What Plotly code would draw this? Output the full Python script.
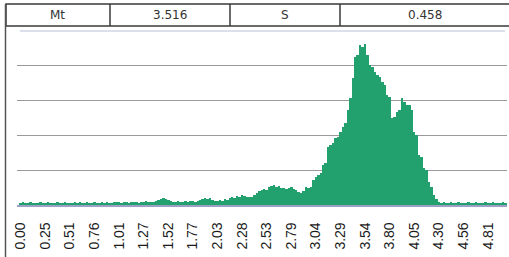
import plotly.graph_objects as go

# ---- data ----
stats_labels = ["Mt", "S"]
stats_values = ["3.516", "0.458"]

tick_labels = ["0.00", "0.25", "0.51", "0.76", "1.01", "1.27", "1.52", "1.77", "2.03", "2.28",
               "2.53", "2.79", "3.04", "3.29", "3.54", "3.80", "4.05", "4.30", "4.56", "4.81"]

# frequency per bin (198 bins, arbitrary units)
freq = [
    # 0-39
    2, 3, 2, 2, 3, 2, 2, 2, 3, 2, 2, 3, 2, 2, 2, 3, 2, 2, 3, 2,
    2, 2, 3, 2, 3, 2, 2, 3, 2, 2, 3, 2, 2, 3, 2, 3, 2, 2, 3, 3,
    # 40-55
    3, 2, 3, 3, 2, 3, 3, 3, 2, 3, 3, 4, 3, 3, 3, 4,
    # 56-61
    5, 6, 7, 6, 5, 4,
    # 62-72
    3, 3, 4, 3, 3, 4, 3, 4, 4, 3, 4,
    # 73-85
    5, 6, 7, 6, 7, 5, 4, 4, 5, 4, 6, 5, 7,
    # 86-93
    8, 7, 9, 8, 10, 9, 8, 8,
    # 94-101
    8, 10, 12, 14, 15, 16, 15, 18,
    # 102-113
    19, 20, 18, 19, 17, 17, 16, 17, 18, 16, 15, 13,
    # 114-124
    12, 14, 18, 17, 18, 25, 28, 30, 32, 40, 42,
    # 125-133
    58, 60, 62, 67, 68, 73, 78, 82, 95,
    # 134-143
    107, 127, 148, 150, 160, 158, 161, 150, 140, 138,
    # 144-153
    133, 130, 128, 123, 120, 110, 108, 87, 88, 93,
    # 154-163
    95, 107, 103, 100, 100, 95, 73, 70, 50, 48,
    # 164-169
    37, 35, 23, 18, 10, 6,
    # 170-197
    3, 2, 3, 2, 2, 3, 2, 2, 3, 2, 2, 2, 3, 2, 2, 3, 2, 2, 2, 3,
    2, 2, 3, 2, 2, 2, 3, 2,
]
bins = list(range(len(freq)))
tick_positions = list(range(0, 10 * len(tick_labels), 10))

# ---- layout geometry (pixels) ----
W, H = 509, 257
L, R, T, B = 17, 2, 30, 52
PW, PH = W - L - R, H - T - B


def px(x):
    return (x - L) / PW


def py(y):
    return (H - B - y) / PH


fig = go.Figure()
fig.add_trace(go.Bar(
    x=bins, y=freq, width=1.0,
    marker=dict(color="#22a06e", line=dict(width=0)),
    hoverinfo="x+y",
))

shapes = []
line_col = "#3a3a3a"
# table box
shapes.append(dict(type="rect", xref="paper", yref="paper",
                   x0=px(6), x1=px(512), y0=py(26), y1=py(4),
                   line=dict(color=line_col, width=1.5)))
for xv in [110, 230, 340]:
    shapes.append(dict(type="line", xref="paper", yref="paper",
                       x0=px(xv), x1=px(xv), y0=py(26), y1=py(4),
                       line=dict(color=line_col, width=1.5)))
# left border line running down
shapes.append(dict(type="line", xref="paper", yref="paper",
                   x0=px(5.5), x1=px(5.5), y0=py(257), y1=py(4),
                   line=dict(color="#555555", width=1.5)))
# faint top border of plot area
shapes.append(dict(type="line", xref="paper", yref="paper",
                   x0=px(20), x1=px(505), y0=py(31), y1=py(31),
                   line=dict(color="#b8c0d8", width=1)))

annotations = []
cells = [(57, stats_labels[0]), (170, stats_values[0]), (285, stats_labels[1]), (425, stats_values[1])]
for cx, txt in cells:
    annotations.append(dict(xref="paper", yref="paper", x=px(cx), y=py(15.5),
                            text=txt, showarrow=False, xanchor="center", yanchor="middle",
                            font=dict(family="DejaVu Sans, Verdana", size=12, color="#333333")))

fig.update_layout(
    width=W, height=H,
    margin=dict(l=L, r=R, t=T, b=B, pad=0),
    paper_bgcolor="white", plot_bgcolor="white",
    bargap=0, showlegend=False,
    shapes=shapes, annotations=annotations,
    xaxis=dict(
        range=[-1.5, len(freq) - 0.3],
        tickmode="array", tickvals=tick_positions, ticktext=tick_labels,
        tickangle=-90, ticks="outside", ticklen=10, tickcolor="white",
        tickfont=dict(family="Liberation Sans, Arial", size=14, color="#1a1a1a"),
        showgrid=False, zeroline=False,
        showline=True, linecolor="#9da0c4", linewidth=1.5,
        fixedrange=True,
    ),
    yaxis=dict(
        range=[0, 175], dtick=35, tick0=0,
        showticklabels=False, ticks="",
        showgrid=True, gridcolor="#9a9a9a", gridwidth=1,
        zeroline=False, showline=False, fixedrange=True,
    ),
)

fig.write_html("out.html", config={"displayModeBar": False},
               post_script="document.body.style.margin='0';document.body.style.overflow='hidden';")
